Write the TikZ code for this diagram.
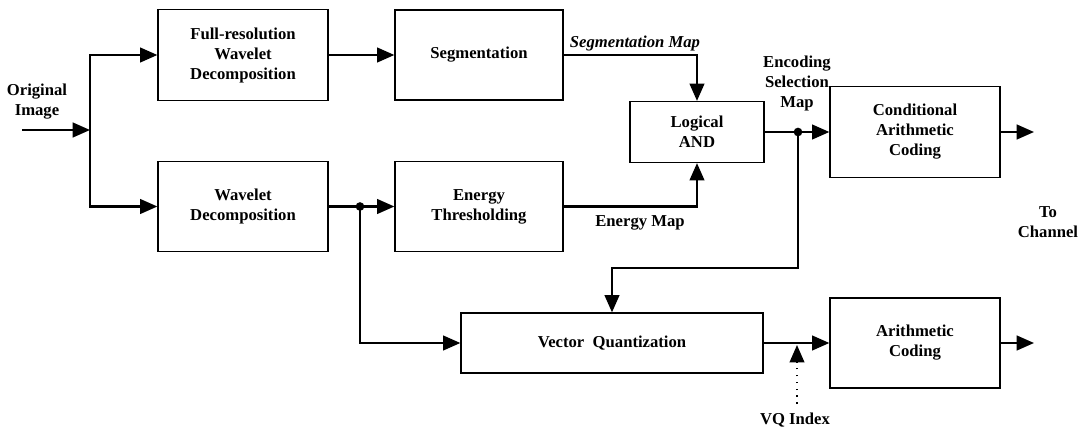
\documentclass[tikz,border=0pt]{standalone}
\usepackage{fontspec}
\setmainfont{Liberation Serif}
\usetikzlibrary{arrows.meta}

\begin{document}
\begin{tikzpicture}[x=0.75pt,y=0.75pt,yscale=-1,xscale=1,
  block/.style={draw, line width=0.9pt, align=center, inner sep=0pt, font=\fontsize{12.5}{15}\selectfont\bfseries},
  lbl/.style={align=center, inner sep=0.75pt, font=\fontsize{12.5}{15}\selectfont\bfseries},
  wire/.style={line width=1.7pt},
  flow/.style={line width=1.7pt, -{Triangle[length=13pt,width=11pt]}},
  junction/.style={circle, fill, inner sep=0pt, minimum size=6.5pt}]
\useasboundingbox (0,0) rectangle (1082,432);

%Shape: Rect [id:fullres]
\node [block, minimum width=127.5pt, minimum height=68.25pt] (fullres) at (243,55) {Full-resolution\\Wavelet\\Decomposition};
%Shape: Rect [id:wavelet]
\node [block, minimum width=127.5pt, minimum height=67.5pt] (wavelet) at (243,206.5) {Wavelet\\Decomposition};
%Shape: Rect [id:seg]
\node [block, minimum width=126pt, minimum height=67.5pt] (seg) at (479,55) {Segmentation};
%Shape: Rect [id:energy]
\node [block, minimum width=126pt, minimum height=67.5pt] (energy) at (479,206.5) {Energy\\Thresholding};
%Shape: Rect [id:logical]
\node [block, minimum width=100.5pt, minimum height=45.75pt] (logical) at (697,132) {Logical\\AND};
%Shape: Rect [id:cond]
\node [block, minimum width=127.5pt, minimum height=68.25pt] (cond) at (915,132) {Conditional\\Arithmetic\\Coding};
%Shape: Rect [id:vq]
\node [block, minimum width=226.5pt, minimum height=45pt] (vq) at (612,343) {Vector\ \ Quantization};
%Shape: Rect [id:arith]
\node [block, minimum width=127.5pt, minimum height=67.5pt] (arith) at (915,343) {Arithmetic\\Coding};

%Junctions
\node [junction] (j1) at (360,206.5) {};
\node [junction] (j2) at (798,132) {};
\coordinate (in) at (22,130);
\coordinate (split) at (90,130);
\coordinate (turn) at (798,268);
\coordinate (out1) at (1034,132);
\coordinate (out2) at (1034,343);
\coordinate (vqsrc) at (797,404);
\coordinate (vqtip) at (797,345);

%Straight Lines
\draw [flow] (in) -- (split);
\draw [flow] (split) |- (fullres.west);
\draw [flow] (split) |- (wavelet.west);
\draw [flow] (fullres.east) -- (seg.west);
\draw [wire] (wavelet.east) -- (j1.center);
\draw [flow] (j1.center) -- (energy.west);
\draw [flow] (j1.center) |- (vq.west);
\draw [flow] (seg.east) -| (logical.north);
\draw [flow] (energy.east) -| (logical.south);
\draw [wire] (logical.east) -- (j2.center);
\draw [flow] (j2.center) -- (cond.west);
\draw [flow] (j2.center) -- (turn) -| (vq.north);
\draw [flow] (vq.east) -- (arith.west);
\draw [flow] (cond.east) -- (out1);
\draw [flow] (arith.east) -- (out2);
\draw [line width=1.2pt, dash pattern=on 1.2pt off 4pt, -{Triangle[length=13pt,width=11pt]}] (vqsrc) -- (vqtip);

% Text Node
\node [lbl] (orig) at (37,102) {Original\\Image};
% Text Node
\node [lbl, font=\fontsize{12.5}{15}\selectfont\bfseries\itshape] (segmap) at (635,43) {Segmentation Map};
% Text Node
\node [lbl] (emap) at (640,223) {Energy Map};
% Text Node
\node [lbl] (esmap) at (797,83) {Encoding\\Selection\\Map};
% Text Node
\node [lbl] (vqidx) at (795,420) {VQ Index};
% Text Node
\node [lbl] (chan) at (1048,222) {To\\Channel};

\end{tikzpicture}
\end{document}
